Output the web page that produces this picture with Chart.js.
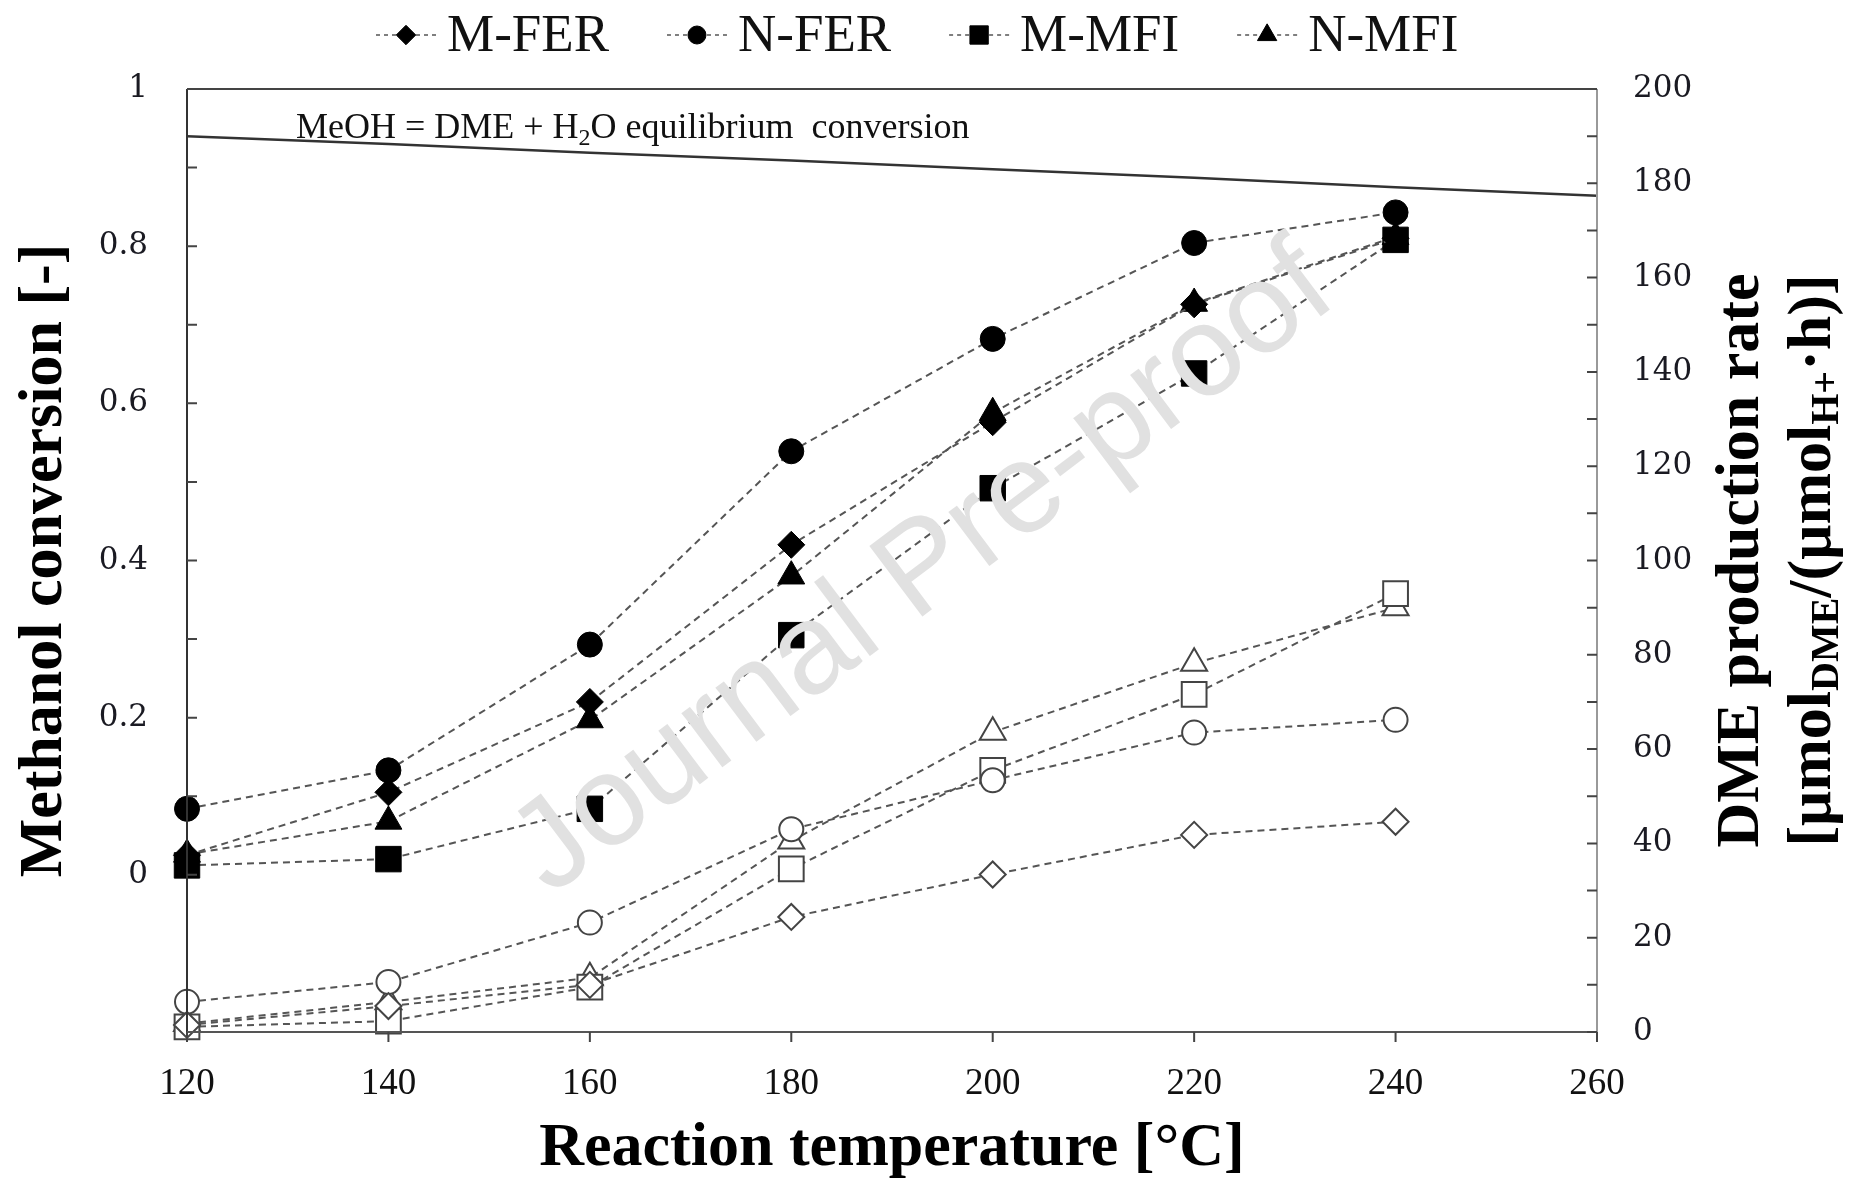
<!DOCTYPE html>
<html>
<head>
<meta charset="utf-8">
<script src="https://cdn.jsdelivr.net/npm/chart.js@4.4.1/dist/chart.umd.min.js"></script>
<style>
  html, body { margin: 0; padding: 0; background: #fff; }
</style>
</head>
<body>
<canvas id="chart" width="1854" height="1181"></canvas>
<script>
// values
const temps = [120, 140, 160, 180, 200, 220, 240]
const seriesNames = ["M-FER", "N-FER", "M-MFI", "N-MFI"]

// methanol conversion [-] (filled markers, left axis)
const convMFER = [0.025, 0.105, 0.220, 0.420, 0.576, 0.726, 0.810]
const convNFER = [0.084, 0.133, 0.293, 0.539, 0.682, 0.804, 0.843]
const convMMFI = [0.012, 0.020, 0.084, 0.305, 0.492, 0.638, 0.808]
const convNMFI = [0.026, 0.068, 0.197, 0.380, 0.588, 0.727, 0.812]

// DME production rate (open markers, right axis)
const rateMFER = [1.5, 5.5, 10.0, 24.4, 33.4, 41.8, 44.6]
const rateNFER = [6.4, 10.6, 23.2, 43.0, 53.4, 63.5, 66.2]
const rateMMFI = [1.1, 2.3, 9.5, 34.6, 55.5, 71.6, 93.0]
const rateNMFI = [1.8, 6.4, 11.5, 40.5, 63.6, 78.2, 90.0]

// MeOH = DME + H2O equilibrium conversion
const eqTemps = [120, 140, 160, 180, 200, 220, 240, 260]
const eqConv = [0.940, 0.930, 0.919, 0.909, 0.898, 0.887, 0.875, 0.864]

const xTicks = [120, 140, 160, 180, 200, 220, 240, 260]

const SERIF = "'Liberation Serif', 'Times New Roman', serif"
const WIDE_SERIF = "'DejaVu Serif', serif"
const markers = { "M-FER": ["rectRot", 13.5], "N-FER": ["circle", 12.5], "M-MFI": ["rect", 18], "N-MFI": ["triangle", 15.5] }

function pts(ys) {
  return temps.map((t, i) => ({ x: t, y: ys[i] }))
}

function filled(name, ys) {
  const [style, r] = markers[name]
  return {
    label: name, data: pts(ys), yAxisID: "y",
    borderColor: "#555", borderWidth: 2, borderDash: [7, 5],
    pointStyle: style, pointRadius: r, pointBackgroundColor: "#000", pointBorderColor: "#000", pointBorderWidth: 1,
  }
}

function open(name, ys) {
  const [style, r] = markers[name]
  return {
    label: name + " rate", data: pts(ys), yAxisID: "y2",
    borderColor: "#555", borderWidth: 2, borderDash: [7, 5],
    pointStyle: style, pointRadius: r - 0.5, pointBackgroundColor: "#fff", pointBorderColor: "#444", pointBorderWidth: 2,
  }
}

// text drawn on the canvas: frame, inward ticks, legend, notes, watermark
const extras = {
  id: "extras",
  afterDatasetsDraw(chart) {
    const { ctx, chartArea: a } = chart
    ctx.save()
    ctx.translate(a.left + 737, a.top + 482)
    ctx.rotate(-37 * Math.PI / 180)
    ctx.font = "128px 'Liberation Sans', Arial, sans-serif"
    ctx.fillStyle = "#e1e1e1"
    ctx.textAlign = "center"
    ctx.textBaseline = "middle"
    ctx.fillText("Journal Pre-proof", 0, 0)
    ctx.restore()
  },
  afterDraw(chart) {
    const { ctx, chartArea: a, scales } = chart
    ctx.save()
    // frame
    ctx.lineWidth = 2
    ctx.strokeStyle = "#444"
    ctx.beginPath(); ctx.moveTo(a.left, a.top); ctx.lineTo(a.right, a.top); ctx.stroke()
    ctx.strokeStyle = "#333"
    ctx.beginPath(); ctx.moveTo(a.left, a.top); ctx.lineTo(a.left, a.bottom); ctx.stroke()
    ctx.strokeStyle = "#555"
    ctx.beginPath(); ctx.moveTo(a.left, a.bottom); ctx.lineTo(a.right, a.bottom); ctx.stroke()
    ctx.strokeStyle = "#999"
    ctx.beginPath(); ctx.moveTo(a.right, a.top); ctx.lineTo(a.right, a.bottom); ctx.stroke()

    // ticks
    ctx.strokeStyle = "#444"
    ctx.beginPath()
    for (let i = 0; i <= 10; i++) {
      const y = scales.y.getPixelForValue(i / 10)
      ctx.moveTo(a.left, y); ctx.lineTo(a.left + 10, y)
    }
    for (let v = 0; v <= 200; v += 10) {
      const y = scales.y2.getPixelForValue(v)
      ctx.moveTo(a.right - 10, y); ctx.lineTo(a.right, y)
    }
    xTicks.forEach((t) => {
      const x = scales.x.getPixelForValue(t)
      ctx.moveTo(x, a.bottom); ctx.lineTo(x, a.bottom + 10)
    })
    ctx.stroke()

    // equilibrium note
    ctx.fillStyle = "#111"
    ctx.textBaseline = "alphabetic"
    ctx.textAlign = "left"
    let x = a.left + 109
    const by = a.top + 49
    const parts = [["MeOH = DME + H", 36, 0], ["2", 24, 7], ["O equilibrium  conversion", 36, 0]]
    parts.forEach(([s, size, dy]) => {
      ctx.font = size + "px " + SERIF
      ctx.fillText(s, x, by + dy)
      x += ctx.measureText(s).width
    })

    // right axis title, two lines, rotated
    ctx.save()
    ctx.translate(a.right + 145, (a.top + a.bottom) / 2)
    ctx.rotate(-Math.PI / 2)
    ctx.fillStyle = "#000"
    ctx.textBaseline = "middle"
    ctx.textAlign = "center"
    ctx.font = "bold 62px " + SERIF
    ctx.fillText("DME production rate", 0, 0)
    const line2 = [["[\u03bcmol", 62, 0], ["DME", 40, 14], ["/(\u03bcmol", 62, 0], ["H+", 40, 14], ["\u00b7h)]", 62, 0]]
    let w = 0
    line2.forEach(([s, size]) => { ctx.font = "bold " + size + "px " + SERIF; w += ctx.measureText(s).width })
    ctx.textAlign = "left"
    let lx = -w / 2
    line2.forEach(([s, size, dy]) => {
      ctx.font = "bold " + size + "px " + SERIF
      ctx.fillText(s, lx, 72 + dy)
      lx += ctx.measureText(s).width
    })
    ctx.restore()

    // legend
    ctx.font = "53px " + SERIF
    ctx.textBaseline = "middle"
    ctx.textAlign = "left"
    let lxp = 376
    const ly = 35
    seriesNames.forEach((name) => {
      const [style, r] = markers[name]
      ctx.strokeStyle = "#555"
      ctx.lineWidth = 1.5
      ctx.setLineDash([4, 4])
      ctx.beginPath(); ctx.moveTo(lxp, ly); ctx.lineTo(lxp + 61, ly); ctx.stroke()
      ctx.setLineDash([])
      ctx.fillStyle = "#000"
      ctx.strokeStyle = "#000"
      ctx.lineWidth = 1
      Chart.helpers.drawPoint(ctx, { pointStyle: style, radius: r * 0.72, rotation: 0, borderWidth: 1 }, lxp + 30, ly)
      ctx.fillStyle = "#111"
      ctx.fillText(name, lxp + 71, ly + 2)
      lxp += 71 + ctx.measureText(name).width + 58
    })
    ctx.restore()
  },
}

const datasets = [
  {
    label: "equilibrium", data: eqTemps.map((t, i) => ({ x: t, y: eqConv[i] })), yAxisID: "y",
    borderColor: "#333", borderWidth: 2.5, pointRadius: 0,
  },
  filled("M-FER", convMFER), filled("N-FER", convNFER), filled("M-MFI", convMMFI), filled("N-MFI", convNMFI),
  open("M-FER", rateMFER), open("N-FER", rateNFER), open("M-MFI", rateMMFI), open("N-MFI", rateNMFI),
]

new Chart(document.getElementById("chart"), {
  type: "line",
  data: { datasets },
  options: {
    responsive: false,
    animation: false,
    devicePixelRatio: 1,
    clip: false,
    layout: { padding: { top: 89, left: 0, right: 0, bottom: 0 } },
    plugins: { legend: { display: false }, tooltip: { enabled: false } },
    scales: {
      x: {
        type: "linear", min: 120, max: 260,
        afterFit: (s) => { s.height = 149 },
        grid: { display: false, drawTicks: false }, border: { display: false },
        ticks: { stepSize: 20, padding: 30, color: "#111", maxRotation: 0, autoSkip: false, font: { family: SERIF, size: 37 } },
        title: { display: true, text: "Reaction temperature [\u00b0C]", color: "#000", font: { family: SERIF, size: 62, weight: "bold", lineHeight: 1 }, padding: { top: 0, bottom: 1 } },
      },
      y: {
        position: "left", min: -0.2, max: 1,
        afterFit: (s) => { s.width = 187 },
        grid: { display: false, drawTicks: false }, border: { display: false },
        ticks: {
          stepSize: 0.2, padding: 39, color: "#1a1a22", font: { family: WIDE_SERIF, size: 31 },
          callback: (v) => (Math.abs(v + 0.2) < 1e-6 ? "" : String(Math.round(v * 10) / 10)),
        },
        title: { display: true, text: "Methanol conversion [-]", color: "#000", font: { family: SERIF, size: 62, weight: "bold", lineHeight: 1 }, padding: { top: 14, bottom: 0 } },
      },
      y2: {
        position: "right", min: 0, max: 200,
        afterFit: (s) => { s.width = 257 },
        grid: { display: false, drawTicks: false }, border: { display: false },
        ticks: { stepSize: 20, padding: 36, color: "#1a1a22", font: { family: WIDE_SERIF, size: 31 } },
      },
    },
  },
  plugins: [extras],
})
</script>
</body>
</html>
